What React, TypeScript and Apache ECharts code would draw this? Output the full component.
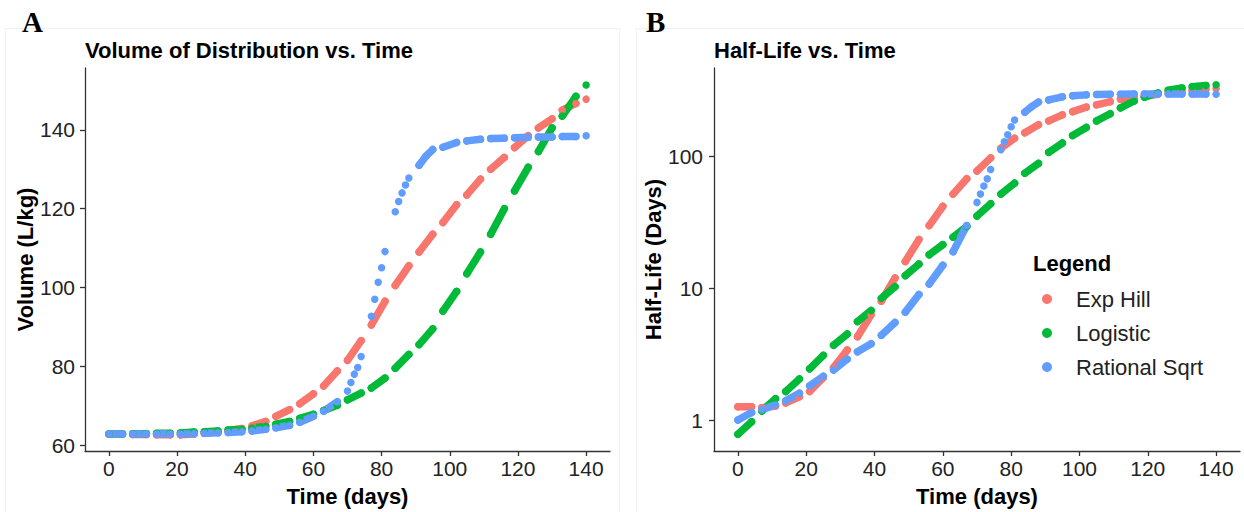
import React, { useEffect, useRef } from 'react';
import * as echarts from 'echarts';

const seriesNames = ['Exp Hill', 'Logistic', 'Rational Sqrt'];
const seriesColors = ['#F8766D', '#00BA38', '#619CFF'];
const timeTicks = [0, 20, 40, 60, 80, 100, 120, 140];
const volumeTicks = [60, 80, 100, 120, 140];
const halfLifeTicks = [1, 10, 100];

type Seg = [number, number][];

// Panel A: Volume of distribution (L/kg) — each inner list is one dash of points
const volExpHill: Seg[] = [
  [[0, 62.8], [4, 62.8]], [[7, 62.7], [11, 62.7]], [[14, 62.6], [18, 62.6]],
  [[21, 62.6], [25, 62.8]], [[28, 63.0], [32, 63.3]], [[35, 63.6], [39, 64.2]],
  [[42, 64.9], [46, 66.0]], [[49, 67.3], [53, 69.0]], [[56, 70.5], [60, 73.0]],
  [[63, 75.0], [67, 78.8]], [[70, 81.5], [74, 86.5]], [[77, 90.5], [81, 96.5]],
  [[84, 100.5], [88, 105.5]], [[91, 109.0], [95, 113.5]], [[98, 116.5], [102, 121.0]],
  [[105, 123.5], [109, 127.5]], [[112, 130.0], [116, 133.0]], [[119, 135.5], [123, 138.5]],
  [[126, 140.5], [130, 142.8]], [[133, 145.0], [137, 146.7]], [[140, 147.8]],
];
const volLogistic: Seg[] = [
  [[0, 62.8], [4, 62.8]], [[7, 62.9], [11, 62.9]], [[14, 63.0], [18, 63.0]],
  [[21, 63.1], [25, 63.3]], [[28, 63.4], [32, 63.6]], [[35, 63.8], [39, 64.0]],
  [[42, 64.3], [46, 64.8]], [[49, 65.3], [53, 66.0]], [[56, 66.8], [60, 67.8]],
  [[63, 68.8], [67, 70.1]], [[70, 71.5], [74, 73.2]], [[77, 74.5], [81, 77.0]],
  [[84, 79.5], [88, 83.0]], [[91, 85.5], [95, 89.5]], [[98, 94.0], [102, 99.0]],
  [[105, 103.5], [109, 109.0]], [[112, 113.5], [116, 120.0]], [[119, 124.5], [123, 130.5]],
  [[126, 134.5], [130, 140.5]], [[133, 143.5], [137, 148.5]], [[140, 151.4]],
];
const volRationalSqrt: Seg[] = [
  [[0, 62.8], [4, 62.8]], [[7, 62.8], [11, 62.8]], [[14, 62.8], [18, 62.8]],
  [[21, 62.8], [25, 62.9]], [[28, 63.0], [32, 63.1]], [[35, 63.2], [39, 63.4]],
  [[42, 63.6], [46, 64.0]], [[49, 64.4], [53, 65.0]], [[56, 65.8], [60, 67.3]],
  [[63, 68.6], [67, 71.0]],
  [[70, 73.7]], [[71, 75.9]], [[72, 78.0]], [[73, 79.7]], [[74, 82.5]],
  [[77, 92.7]], [[78, 97.0]], [[79, 101.3]], [[80, 105.0]], [[81, 109.1]],
  [[84, 119.2]], [[85, 121.8]], [[86, 124.0]], [[87, 126.0]], [[88, 127.8]],
  [[91, 131.0], [93, 133.3], [95, 135.0]], [[98, 135.6], [102, 136.8]],
  [[105, 137.2], [109, 137.6]], [[112, 137.8], [116, 137.9]], [[119, 138.0], [123, 138.1]],
  [[126, 138.2], [130, 138.2]], [[133, 138.3], [137, 138.3]], [[140, 138.5]],
];

// Panel B: Half-life (days), log scale
const hlExpHill: Seg[] = [
  [[0, 1.26], [4, 1.26]], [[7, 1.24], [11, 1.28]], [[14, 1.35], [18, 1.5]],
  [[21, 1.65], [25, 2.1]], [[28, 2.5], [32, 3.4]], [[35, 4.3], [39, 6.3]],
  [[42, 8.0], [46, 12.0]], [[49, 16.0], [53, 23.5]], [[56, 30], [60, 42]],
  [[63, 52], [67, 68]], [[70, 78], [74, 98]], [[77, 116], [81, 138]],
  [[84, 152], [88, 175]], [[91, 187], [95, 208]], [[98, 220], [102, 238]],
  [[105, 248], [109, 262]], [[112, 273], [116, 282]], [[119, 289], [123, 298]],
  [[126, 305], [130, 313]], [[133, 318], [137, 325]], [[140, 330]],
];
const hlLogistic: Seg[] = [
  [[0, 0.78], [4, 0.97]], [[7, 1.17], [11, 1.45]], [[14, 1.65], [18, 2.05]],
  [[21, 2.45], [25, 3.1]], [[28, 3.7], [32, 4.5]], [[35, 5.6], [39, 6.8]],
  [[42, 8.4], [46, 10.3]], [[49, 12.5], [53, 15.3]], [[56, 18.0], [60, 21.5]],
  [[63, 24.5], [67, 29.5]], [[70, 35.5], [74, 44]], [[77, 52], [81, 63]],
  [[84, 75], [88, 89]], [[91, 108], [95, 127]], [[98, 145], [102, 167]],
  [[105, 187], [109, 212]], [[112, 235], [116, 265]], [[119, 283], [123, 305]],
  [[126, 320], [130, 333]], [[133, 340], [137, 347]], [[140, 352]],
];
const hlRationalSqrt: Seg[] = [
  [[0, 1.0], [4, 1.14]], [[7, 1.2], [11, 1.3]], [[14, 1.4], [18, 1.6]],
  [[21, 1.82], [25, 2.15]], [[28, 2.4], [32, 2.9]], [[35, 3.3], [39, 3.8]],
  [[42, 4.4], [46, 5.5]], [[49, 6.6], [53, 9.0]], [[56, 10.8], [60, 15.0]],
  [[63, 19], [67, 30]],
  [[70, 45]], [[71, 52]], [[72, 60]], [[73, 68]], [[74, 80]],
  [[77, 113]], [[78, 130]], [[79, 147]], [[80, 169]], [[81, 190]],
  [[84, 218], [86, 240], [88, 260]], [[91, 270], [95, 285]], [[98, 290], [102, 295]],
  [[105, 297], [109, 298]], [[112, 298], [116, 299]], [[119, 299], [123, 300]],
  [[126, 300], [130, 300]], [[133, 300], [137, 300]], [[140, 298]],
];

const FONT = '"Liberation Sans", Arial, sans-serif';

function toLineData(segs: Seg[]) {
  const out: any[] = [];
  segs.forEach((s, i) => {
    if (i > 0) out.push([s[0][0], '-']);
    s.forEach((p) => out.push(p));
  });
  return out;
}

function makeSeries(segs: Seg[], idx: number, axisIndex: number) {
  return {
    type: 'line',
    name: seriesNames[idx],
    xAxisIndex: axisIndex,
    yAxisIndex: axisIndex,
    data: toLineData(segs),
    connectNulls: false,
    showSymbol: true,
    symbol: 'circle',
    symbolSize: 7.5,
    color: seriesColors[idx],
    itemStyle: { color: seriesColors[idx] },
    lineStyle: { width: 7.5, color: seriesColors[idx], cap: 'round', join: 'round' },
    silent: true,
    emphasis: { disabled: true },
  };
}

function xAxisFor(gridIndex: number) {
  return {
    gridIndex,
    type: 'value',
    min: -7,
    max: 147,
    name: 'Time (days)',
    nameLocation: 'middle',
    nameGap: 34,
    nameTextStyle: { fontSize: 22, fontWeight: 'bold', color: '#000', fontFamily: FONT },
    axisLine: { show: true, onZero: false, lineStyle: { color: '#333', width: 1.3 } },
    axisTick: { show: true, length: 5, customValues: timeTicks, lineStyle: { color: '#333', width: 1.3 } },
    axisLabel: { customValues: timeTicks, fontSize: 21, color: '#222', margin: 7, fontFamily: FONT },
    splitLine: { show: false },
  };
}

export default function App() {
  const ref = useRef<HTMLDivElement>(null);
  useEffect(() => {
    if (!ref.current) return;
    const chart = echarts.init(ref.current, undefined, { renderer: 'svg' });
    chart.setOption({
      animation: false,
      backgroundColor: '#ffffff',
      title: [
        { text: 'Volume of Distribution vs. Time', left: 85, top: 39, padding: 0,
          textStyle: { fontSize: 22, fontWeight: 'bold', color: '#000', fontFamily: FONT } },
        { text: 'Half-Life vs. Time', left: 714, top: 39, padding: 0,
          textStyle: { fontSize: 22, fontWeight: 'bold', color: '#000', fontFamily: FONT } },
      ],
      grid: [
        { left: 85, top: 68, width: 525, height: 384 },
        { left: 714, top: 68, width: 526, height: 384 },
      ],
      xAxis: [xAxisFor(0), xAxisFor(1)],
      yAxis: [
        {
          gridIndex: 0, type: 'value', min: 58.5, max: 155.7,
          name: 'Volume (L/kg)', nameLocation: 'middle', nameGap: 48,
          nameTextStyle: { fontSize: 22, fontWeight: 'bold', color: '#000', fontFamily: FONT },
          axisLine: { show: true, onZero: false, lineStyle: { color: '#333', width: 1.3 } },
          axisTick: { show: true, length: 5, customValues: volumeTicks, lineStyle: { color: '#333', width: 1.3 } },
          axisLabel: { customValues: volumeTicks, fontSize: 21, color: '#222', margin: 10, fontFamily: FONT },
          splitLine: { show: false },
        },
        {
          gridIndex: 1, type: 'log', logBase: 10, min: 0.582, max: 472,
          name: 'Half-Life (Days)', nameLocation: 'middle', nameGap: 50,
          nameTextStyle: { fontSize: 22, fontWeight: 'bold', color: '#000', fontFamily: FONT },
          axisLine: { show: true, onZero: false, lineStyle: { color: '#333', width: 1.3 } },
          axisTick: { show: true, length: 5, customValues: halfLifeTicks, lineStyle: { color: '#333', width: 1.3 } },
          axisLabel: { customValues: halfLifeTicks, fontSize: 21, color: '#222', margin: 11, fontFamily: FONT },
          splitLine: { show: false },
          minorTick: { show: false },
        },
      ],
      legend: {
        data: seriesNames,
        orient: 'vertical',
        left: 1042,
        top: 288,
        icon: 'circle',
        itemWidth: 48,
        itemHeight: 10,
        itemGap: 12,
        selectedMode: false,
        padding: 0,
        textStyle: { fontSize: 22, color: '#222', fontFamily: FONT, lineHeight: 22 },
      },
      graphic: [
        { type: 'rect', silent: true, z: -1, shape: { x: 5.5, y: 28.5, width: 614, height: 490 },
          style: { fill: 'none', stroke: '#f0f0f0', lineWidth: 1 } },
        { type: 'rect', silent: true, z: -1, shape: { x: 636.5, y: 28.5, width: 612, height: 490 },
          style: { fill: 'none', stroke: '#f0f0f0', lineWidth: 1 } },
        { type: 'text', left: 22, top: 7,
          style: { text: 'A', fontSize: 29, fontWeight: 'bold', fontFamily: '"Liberation Serif", "DejaVu Serif", serif', fill: '#000' } },
        { type: 'text', left: 646, top: 7,
          style: { text: 'B', fontSize: 29, fontWeight: 'bold', fontFamily: '"Liberation Serif", "DejaVu Serif", serif', fill: '#000' } },
        { type: 'text', left: 1033, top: 252,
          style: { text: 'Legend', fontSize: 22, fontWeight: 'bold', fontFamily: FONT, fill: '#000' } },
      ],
      series: [
        makeSeries(volExpHill, 0, 0),
        makeSeries(volLogistic, 1, 0),
        makeSeries(volRationalSqrt, 2, 0),
        makeSeries(hlExpHill, 0, 1),
        makeSeries(hlLogistic, 1, 1),
        makeSeries(hlRationalSqrt, 2, 1),
      ],
    });
    return () => chart.dispose();
  }, []);
  return (
    <div
      ref={ref}
      style={{ position: 'fixed', left: 0, top: 0, width: 1244, height: 512, background: '#fff' }}
    />
  );
}
